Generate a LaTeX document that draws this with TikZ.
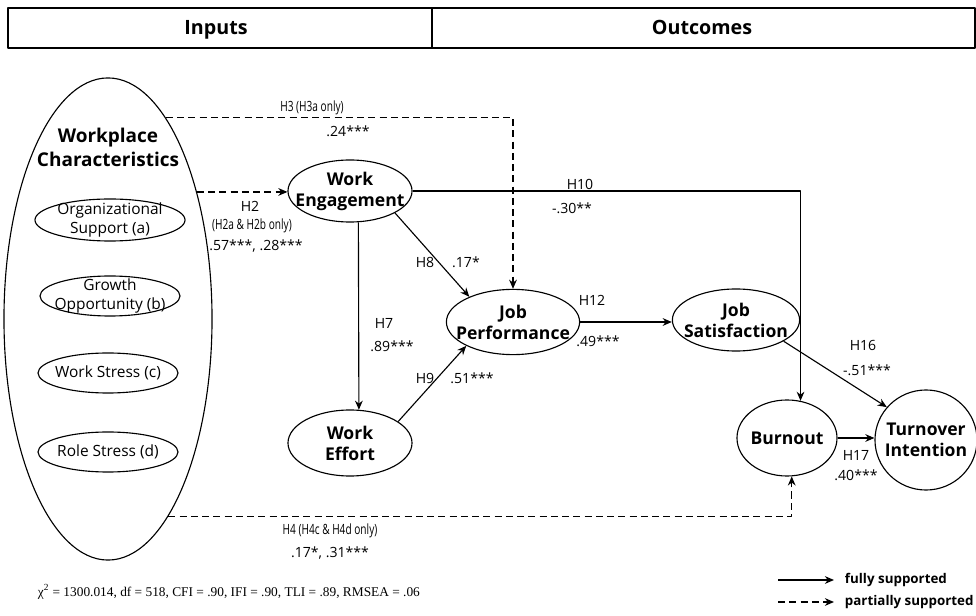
\documentclass[tikz,border=0pt]{standalone}
\usepackage{fontspec}
\setmainfont{Open Sans}
\newfontfamily\condfont[FakeStretch=0.72]{Open Sans}
\newfontfamily\timesfont{Liberation Serif}
\usetikzlibrary{arrows.meta,shapes.geometric}

\tikzset{
  construct/.style={draw,ellipse,line width=0.8pt,inner sep=0pt},
  ctext/.style={align=center,font=\bfseries\fontsize{12.5}{15}\selectfont},
  dimtext/.style={align=center,font=\fontsize{11}{13}\selectfont},
  hlabel/.style={font=\fontsize{10}{12}\selectfont},
  clabel/.style={font=\condfont\fontsize{10}{12}\selectfont},
  headtext/.style={anchor=base,font=\bfseries\fontsize{14}{16}\selectfont},
  legtext/.style={anchor=west,font=\bfseries\fontsize{9.5}{11}\selectfont},
  full/.style={line width=0.8pt,->},
  partial/.style={line width=0.8pt,->,dashed,dash pattern=on 5pt off 3pt},
}

\begin{document}
\begin{tikzpicture}[x=0.025cm,y=-0.025cm,line join=bevel,>={Stealth[length=6.5pt,width=5.5pt]}]
  \useasboundingbox (0,0) rectangle (976,616);

  % header
  \draw[line width=0.8pt] (8,8) rectangle (975,48);
  \draw[line width=0.8pt] (432,8) -- (432,48);
  \node[headtext] (hin) at (216,35) {Inputs};
  \node[headtext] (hout) at (702,35) {Outcomes};

  % workplace characteristics
  \node[construct,minimum width=5.2cm,minimum height=12.05cm] (wc) at (108,319) {};
  \node[ctext,font=\bfseries\fontsize{13.5}{17}\selectfont] (wcT) at (108,147) {Workplace\\Characteristics};
  \node[construct,minimum width=3.75cm,minimum height=1.05cm] (os) at (110,220) {};
  \node[dimtext] (osT) at (os) {Organizational\\Support (a)};
  \node[construct,minimum width=3.5cm,minimum height=1.0cm] (go) at (110,296) {};
  \node[dimtext] (goT) at (go) {Growth\\Opportunity (b)};
  \node[construct,minimum width=3.5cm,minimum height=1.0cm] (ws) at (108,373) {};
  \node[dimtext] (wsT) at (ws) {Work Stress (c)};
  \node[construct,minimum width=3.5cm,minimum height=1.0cm] (rs) at (108,452) {};
  \node[dimtext] (rsT) at (rs) {Role Stress (d)};

  % outcomes
  \node[construct,minimum width=3.1cm,minimum height=1.55cm] (we) at (350,191) {};
  \node[ctext] (weT) at (we) {Work\\Engagement};
  \node[construct,minimum width=3.1cm,minimum height=1.65cm] (wf) at (350,443) {};
  \node[ctext] (wfT) at (wf) {Work\\Effort};
  \node[construct,minimum width=3.33cm,minimum height=1.63cm] (jp) at (513,322) {};
  \node[ctext] (jpT) at (jp) {Job\\Performance};
  \node[construct,minimum width=3.18cm,minimum height=1.55cm] (js) at (736,320) {};
  \node[ctext] (jsT) at (js) {Job\\Satisfaction};
  \node[construct,minimum width=2.5cm,minimum height=1.9cm] (bo) at (787,438) {};
  \node[ctext] (boT) at (bo) {Burnout};
  \node[construct,minimum width=2.55cm,minimum height=2.5cm] (ti) at (926,440) {};
  \node[ctext] (tiT) at (ti) {Turnover\\Intention};

  % paths
  \draw[partial] (wc.74) -| (jp.north);
  \node[clabel] (h3) at (312,108) {H3 (H3a only)};
  \node[hlabel] (h3v) at (348,131) {.24***};

  \draw[partial] (wc.55) -- (wc.55 -| we.west);
  \node[hlabel] (h2) at (250,206) {H2};
  \node[clabel] (h2a) at (252,226) {(H2a \& H2b only)};
  \node[hlabel] (h2v) at (256,246) {.57***, .28***};

  \draw[full] (we.east) -| (bo.70);
  \node[hlabel] (h10) at (580,184) {H10};
  \node[hlabel] (h10v) at (572,208) {-.30**};

  \draw[full] (we.-26) -- (jp.150);
  \node[hlabel] (h8) at (425,262) {H8};
  \node[hlabel] (h8v) at (466,262) {.17*};

  \draw[full] (we.-75) -- (wf.75);
  \node[hlabel] (h7) at (384,323) {H7};
  \node[hlabel] (h7v) at (392,346) {.89***};

  \draw[full] (wf.24) -- (jp.207);
  \node[hlabel] (h9) at (425,378) {H9};
  \node[hlabel] (h9v) at (472,378) {.51***};

  \draw[full] (jp.east) -- (jp.east -| js.west);
  \node[hlabel] (h12) at (592,300) {H12};
  \node[hlabel] (h12v) at (598,341) {.49***};

  \draw[full] (js.-24) -- (ti.140);
  \node[hlabel] (h16) at (863,345) {H16};
  \node[hlabel] (h16v) at (867,370) {-.51***};

  \draw[full] (bo.east) -- (bo.east -| ti.west);
  \node[hlabel] (h17) at (856,455) {H17};
  \node[hlabel] (h17v) at (856,475) {.40***};

  \draw[partial] (wc.-73) -| (bo.-83);
  \node[clabel] (h4) at (330,531) {H4 (H4c \& H4d only)};
  \node[hlabel] (h4v) at (330,553) {.17*, .31***};

  % fit and legend
  \node[font=\timesfont\fontsize{9.5}{12}\selectfont,anchor=west] (fit) at (33,592)
    {χ\textsuperscript{2} = 1300.014, df = 518, CFI = .90, IFI = .90, TLI = .89, RMSEA = .06};
  \coordinate (lf1) at (778,580);
  \coordinate (lf2) at (834,580);
  \coordinate (lp1) at (778,602);
  \coordinate (lp2) at (834,602);
  \draw[full] (lf1) -- (lf2);
  \draw[partial] (lp1) -- (lp2);
  \node[legtext] (lfT) at (840,580) {fully supported};
  \node[legtext] (lpT) at (840,602) {partially supported};
\end{tikzpicture}
\end{document}
